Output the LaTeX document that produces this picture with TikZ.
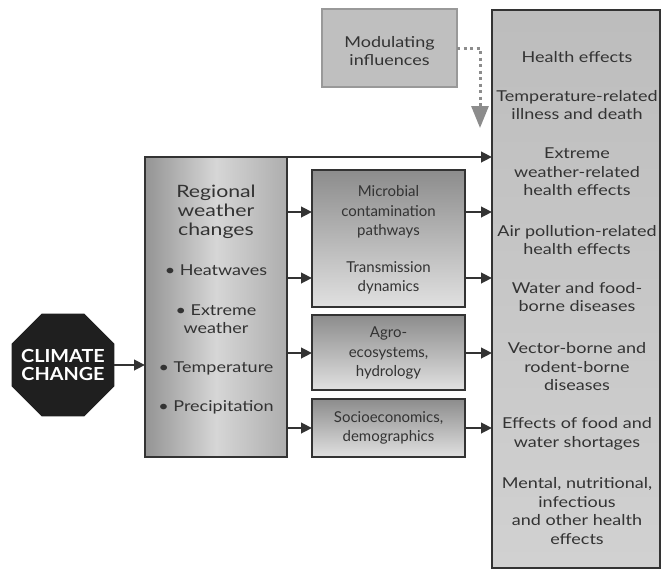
\documentclass[tikz,border=0pt]{standalone}
\usepackage{fontspec}
\setmainfont{Lato}
\newfontfamily\widefont{Lato}[FakeStretch=1.2]
\newfontfamily\widerfont{Lato}[FakeStretch=1.25]
\newfontfamily\ccfont{Lato}[FakeStretch=1.1]
\usetikzlibrary{shapes.geometric,arrows.meta}
\definecolor{ink}{HTML}{333333}
\begin{document}
\begin{tikzpicture}[x=1pt,y=-1pt,
  txt/.style={font=\widefont\fontsize{15}{18.5}\selectfont, text=ink, align=center, inner sep=0pt},
  midtxt/.style={font=\fontsize{15}{19.5}\selectfont, text=ink, align=center, inner sep=0pt},
  head/.style={font=\widerfont\fontsize{17}{19}\selectfont, text=ink, align=center, inner sep=0pt},
  box/.style={draw=ink, line width=2.5pt, inner sep=0pt, outer sep=0pt},
  arr/.style={draw=ink, line width=2.5pt, -{Triangle[length=11pt,width=10.5pt]}},
  dotarr/.style={draw=black!45, line width=3pt, dash pattern=on 3pt off 3.5pt, -{Triangle[length=22pt,width=17pt]}},
]
\useasboundingbox (0,0) rectangle (663,570);

% boxes
\node[box, top color=black!26, bottom color=black!18, minimum width=168pt, minimum height=558pt] (health) at (576,289) {};
\node[box, draw=black!40, line width=1.5pt, fill=black!25, minimum width=135pt, minimum height=78pt] (mod) at (389.5,48) {};
\node[box, left color=black!42, right color=black!32, middle color=black!16, minimum width=142pt, minimum height=300pt] (reg) at (216,307) {};
\node[box, top color=black!45, bottom color=black!12, minimum width=153pt, minimum height=137pt] (mic) at (388.5,238.5) {};
\node[box, top color=black!45, bottom color=black!12, minimum width=153pt, minimum height=75pt] (agro) at (388.5,352.5) {};
\node[box, top color=black!45, bottom color=black!12, minimum width=153pt, minimum height=58pt] (soc) at (388.5,428) {};
\node[regular polygon, regular polygon sides=8, fill=black!88, minimum size=111pt, inner sep=0pt, outer sep=0pt] (cc) at (63,365) {};
\node[text=white, align=center, inner sep=0pt, font=\ccfont\bfseries\fontsize{18}{18.5}\selectfont] (cct) at (cc.center) {CLIMATE\\CHANGE};

% texts
\node[txt] (modt) at (389.5,51) {Modulating\\influences};
\node[txt] (h0) at (577,57) {Health effects};
\node[txt] (h1) at (577,105) {Temperature-related\\illness and death};
\node[txt] (h2) at (577,172) {Extreme\\weather-related\\health effects};
\node[txt] (h3) at (577,240) {Air pollution-related\\health effects};
\node[txt] (h4) at (577,297) {Water and food-\\borne diseases};
\node[txt] (h5) at (577,367) {Vector-borne and\\rodent-borne\\diseases};
\node[txt] (h6) at (577,434) {Effects of food and\\water shortages};
\node[txt] (h7) at (577,511) {Mental, nutritional,\\infectious\\and other health\\effects};

\node[head] (r0) at (216,212) {Regional\\weather\\changes};
\node[txt] (r1) at (216,270) {\textbullet\ Heatwaves};
\node[txt] (r2) at (216,319) {\textbullet\ Extreme\\weather};
\node[txt] (r3) at (216,368) {\textbullet\ Temperature};
\node[txt] (r4) at (216,407) {\textbullet\ Precipitation};

\node[midtxt] (m1) at (388.5,212) {Microbial\\contamination\\pathways};
\node[midtxt] (m2) at (388.5,278) {Transmission\\dynamics};
\node[midtxt] (m3) at (388.5,353) {Agro-\\ecosystems,\\hydrology};
\node[midtxt] (m4) at (388.5,428) {Socioeconomics,\\demographics};

% connectors
\coordinate (modtip) at (480,128);
\draw[dotarr] (mod.east) -| (modtip);
\draw[arr] (cc.east) -- (reg.west |- cc.east);
\draw[arr] (reg.north east) -- (reg.north east -| health.west);
\foreach \m/\b in {m1/mic, m2/mic, m3/agro, m4/soc} {
  \draw[arr] (reg.east |- \m) -- (\m -| \b.west);
  \draw[arr] (\b.east |- \m) -- (\m -| health.west);
}
\end{tikzpicture}
\end{document}
